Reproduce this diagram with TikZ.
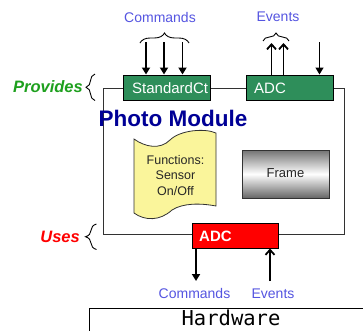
\documentclass[tikz,border=0pt]{standalone}
\usepackage{fontspec}
\setmainfont{Liberation Sans}
\newfontfamily\hwfont{DejaVu Sans Mono}
\usetikzlibrary{arrows.meta,decorations.pathreplacing}
\definecolor{cmdblue}{RGB}{85,85,225}
\definecolor{boxgreen}{RGB}{46,142,90}
\definecolor{provgreen}{RGB}{30,160,30}
\definecolor{pmblue}{RGB}{0,0,150}
\definecolor{scrollyellow}{RGB}{250,245,155}
\definecolor{linegrey}{RGB}{50,50,50}
\tikzset{
  lbl/.style={font=\fontsize{14pt}{16pt}\selectfont, text=cmdblue, inner sep=0pt},
  gbox/.style={draw=black, fill=boxgreen, line width=1pt, minimum width=87pt, minimum height=25pt, inner sep=0pt},
  boxtext/.style={text=white, font=\fontsize{15pt}{17pt}\selectfont, inner sep=0pt, anchor=west},
  downarr/.style={line width=1.8pt, -{Triangle[width=8pt,length=7pt]}},
  uparr/.style={line width=1.8pt, -{Straight Barb[width=9pt,length=5pt]}},
  brc/.style={decorate, decoration={brace, amplitude=#1}, line width=0.9pt},
  sidelbl/.style={font=\fontsize{16.5pt}{18pt}\selectfont\bfseries\itshape, inner sep=0pt}
}
\begin{document}
\begin{tikzpicture}[x=1pt,y=-1pt]
\clip (0,0) rectangle (363,330);
\fill[white] (0,0) rectangle (363,330);

% module frame
\node[draw=linegrey, line width=1pt, minimum width=241pt, minimum height=146pt, inner sep=0pt] (module) at (223.5,161) {};

% green boxes
\node[gbox] (std) at (166.5,87.5) {};
\node[boxtext] (stdt) at (132,88) {StandardCt};
\node[gbox] (adc1) at (289.5,87.5) {};
\node[boxtext] (adc1t) at (254,88) {ADC};

% top labels
\node[lbl] (cmd1) at (160,17) {Commands};
\node[lbl] (ev1) at (278,17) {Events};

% top braces
\coordinate (b1l) at (140,43);
\coordinate (b1r) at (189,43);
\draw[brc=10pt] (b1l) -- (b1r);
\coordinate (b2l) at (263,41);
\coordinate (b2r) at (289,41);
\draw[brc=8pt] (b2l) -- (b2r);

% command arrows
\coordinate (a1) at (146,42);
\coordinate (a2) at (164,42);
\coordinate (a3) at (182.5,42);
\draw[downarr] (a1) -- (a1 |- std.north);
\draw[downarr] (a2) -- (a2 |- std.north);
\draw[downarr] (a3) -- (a3 |- std.north);

% event arrows
\coordinate (e1) at (271.5,43);
\coordinate (e2) at (283.5,43);
\draw[uparr] (e1 |- adc1.north) -- (e1);
\draw[uparr] (e2 |- adc1.north) -- (e2);
\coordinate (e3) at (319.5,42);
\draw[downarr, line width=1.4pt] (e3) -- (e3 |- adc1.north);

% Provides / Uses
\node[sidelbl, text=provgreen, anchor=east] (prov) at (83,87) {Provides};
\coordinate (pb1) at (95,100.5);
\coordinate (pb2) at (95,74);
\draw[brc=9pt] (pb1) -- (pb2);

\node[sidelbl, text=red, anchor=east] (uses) at (80,236.5) {Uses};
\coordinate (ub1) at (96.5,249.5);
\coordinate (ub2) at (96.5,224);
\draw[brc=11pt] (ub1) -- (ub2);

% Photo Module title
\node[font=\fontsize{22.5pt}{24pt}\selectfont\bfseries, text=pmblue, inner sep=0pt] (pm) at (173,118.5) {Photo Module};

% scroll
\draw[fill=scrollyellow, draw=linegrey, line width=0.8pt]
  (134,139) .. controls (145,147) and (160,150) .. (170,140)
  .. controls (180,130) and (205,128) .. (216,133)
  -- (216,206)
  .. controls (200,203) and (183,203) .. (172,210)
  .. controls (160,221) and (145,221) .. (134,213) -- cycle;
\node[font=\fontsize{12.5pt}{15.5pt}\selectfont, align=center, inner sep=0pt, text=black!85] (func) at (175.5,175.5) {Functions:\\Sensor\\On/Off};

% frame box
\node[draw=linegrey, line width=1pt, minimum width=87pt, minimum height=48pt, inner sep=0pt,
      top color=black!55, bottom color=black!60, middle color=white] (frame) at (285.5,174) {};
\node[font=\fontsize{13pt}{15pt}\selectfont, inner sep=0pt, text=black!85] (framet) at (285.5,173) {Frame};

% red ADC
\node[draw=black, fill=red, line width=1pt, minimum width=86pt, minimum height=25pt, inner sep=0pt] (adc2) at (235,235.5) {};
\node[boxtext, font=\fontsize{15pt}{17pt}\selectfont\bfseries] (adc2t) at (199,236) {ADC};

% bottom arrows
\coordinate (bc) at (196,281);
\coordinate (be) at (270,281);
\draw[downarr] (adc2.south -| bc) -- (bc);
\draw[uparr] (be) -- (be |- adc2.south);

\node[lbl] (cmd2) at (194.5,293.5) {Commands};
\node[lbl] (ev2) at (273,293.5) {Events};

% hardware
\node[draw=black, line width=1pt, minimum width=300pt, minimum height=40pt, inner sep=0pt, anchor=north west] (hw) at (89,307.5) {};
\node[font=\hwfont\fontsize{20.5pt}{22pt}\selectfont, inner sep=0pt] (hwt) at (231,318) {Hardware};
\end{tikzpicture}
\end{document}
